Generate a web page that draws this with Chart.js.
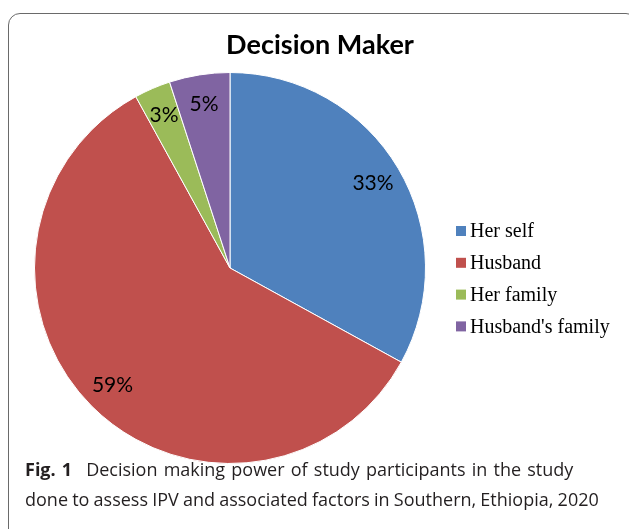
<!DOCTYPE html>
<html>
<head>
<meta charset="utf-8">
<script src="https://cdn.jsdelivr.net/npm/chart.js@4/dist/chart.umd.min.js"></script>
<style>
  html, body { margin: 0; padding: 0; background: #fff; width: 629px; height: 529px; overflow: hidden; }
  #frame { position: absolute; left: 8px; top: 13px; width: 630px; height: 540px; border: 1.5px solid #6a6a6a; border-radius: 12px; box-sizing: border-box; }
  #chart { position: absolute; left: 0; top: 0; }
  .cap { position: absolute; left: 25px; font-family: "Open Sans", sans-serif; font-size: 18px; color: #231f20; white-space: nowrap; }
  .cap b { font-weight: 700; margin-right: 14px; }
</style>
</head>
<body>
<div id="frame"></div>
<canvas id="chart" width="629" height="529"></canvas>
<div class="cap" style="top:457px; word-spacing:1.5px"><b>Fig. 1</b>Decision making power of study participants in the study</div>
<div class="cap" style="top:487px; word-spacing:-0.5px">done to assess IPV and associated factors in Southern, Ethiopia, 2020</div>
<script>
const title = 'Decision Maker';
const labels = ['Her self', 'Husband', 'Her family', "Husband's family"];
const values = [33, 59, 3, 5];
const colors = ['#4f81bd', '#c0504d', '#9bbb59', '#8064a2'];

// title, slice labels and legend drawn on the canvas
const extras = {
  id: 'extras',
  afterDraw(chart) {
    const {ctx} = chart;
    ctx.save();
    ctx.fillStyle = '#000';
    ctx.textAlign = 'center';
    ctx.textBaseline = 'middle';
    ctx.font = 'bold 27px Lato, sans-serif';
    ctx.fillText(title, 320, 45);

    ctx.font = '21px Lato, sans-serif';
    const meta = chart.getDatasetMeta(0);
    meta.data.forEach((arc, i) => {
      const p = arc.getProps(['x', 'y', 'startAngle', 'endAngle', 'outerRadius'], true);
      const mid = (p.startAngle + p.endAngle) / 2;
      const r = p.outerRadius * 0.85;
      ctx.fillText(values[i] + '%', p.x + Math.cos(mid) * r, p.y + Math.sin(mid) * r);
    });

    ctx.textAlign = 'left';
    ctx.font = '20px "Liberation Serif", "Times New Roman", serif';
    labels.forEach((lab, i) => {
      const y = 231 + i * 31.8;
      ctx.fillStyle = colors[i];
      ctx.fillRect(456, y - 5, 10, 10);
      ctx.fillStyle = '#000';
      ctx.fillText(lab, 470, y + 1);
    });
    ctx.restore();
  }
};

new Chart(document.getElementById('chart'), {
  type: 'pie',
  data: {
    labels: labels,
    datasets: [{
      data: values,
      backgroundColor: colors,
      borderColor: '#ffffff',
      borderWidth: 1
    }]
  },
  plugins: [extras],
  options: {
    responsive: false,
    animation: false,
    devicePixelRatio: 1,
    layout: {padding: {left: 34, top: 72, right: 203, bottom: 65}},
    plugins: {
      legend: {display: false},
      title: {display: false},
      tooltip: {enabled: false}
    }
  }
});
</script>
</body>
</html>
